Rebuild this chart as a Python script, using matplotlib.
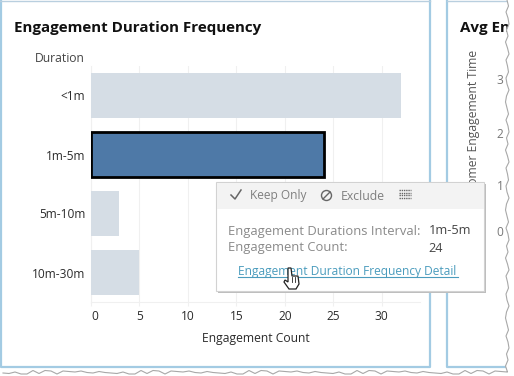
#!/usr/bin/env python
import matplotlib
matplotlib.use('Agg')
import matplotlib.pyplot as plt
from matplotlib.patches import Rectangle, Circle, Polygon

plt.rcParams['font.family'] = ['Open Sans', 'DejaVu Sans']

durations = ['<1m', '1m-5m', '5m-10m', '10m-30m']
counts = [32, 24, 2.9, 5]
selected = '1m-5m'
x_ticks = [0, 5, 10, 15, 20, 25, 30]

right_labels = ['3', '2', '1', '0']
right_label_y = [80, 135, 187, 232]

tip_labels = ['Engagement Durations Interval:', 'Engagement Count:']
tip_values = ['1m-5m', '24']
tip_link = 'Engagement Duration Frequency Detail'

# wiggle of the torn screenshot edge, pixels
tear = [0, 1.5, -1, 1, 2, -0.5, 1, -1.5, 0.5, 2, -1, 0.5, 1.5, -1, 0, 2, -0.5, -1.5]

W, H = 514, 376
BLUE = '#a3cbe3'
GRID = '#f0f0f0'
DARK = '#2b2b2b'

fig = plt.figure(figsize=(W/100, H/100), dpi=100)
fig.patch.set_facecolor('white')

# main bar chart, placed in pixels
ax = fig.add_axes([91/W, 1-302/H, (420-91)/W, (302-66)/H])
colors = ['#4e79a7' if d == selected else '#d5dde5' for d in durations]
for i, d in enumerate(durations):
	if d == selected:
		ax.barh(i, counts[i], height=0.77, color=colors[i], edgecolor='black', linewidth=2, zorder=3)
	else:
		ax.barh(i, counts[i], height=0.75, color=colors[i], zorder=3)
ax.set_ylim(3.5, -0.5)
ax.set_xlim(0, 329/9.69)
ax.set_xticks(x_ticks)
ax.set_yticks(range(len(durations)))
ax.set_yticklabels(durations, fontsize=8.6, color=DARK)
ax.tick_params(axis='y', length=0, pad=4)
ax.tick_params(axis='x', length=3, width=0.8, color=GRID, labelsize=8.6, labelcolor=DARK, pad=3)
ax.grid(axis='x', color=GRID, linewidth=0.8, zorder=0)
ax.set_axisbelow(True)
for s in ['top', 'right']:
	ax.spines[s].set_visible(False)
for s in ['left', 'bottom']:
	ax.spines[s].set_color(GRID)
	ax.spines[s].set_linewidth(0.8)
ax.set_xlabel('Engagement Count', fontsize=8.7, color=DARK, labelpad=6)
ax.get_xticklabels()[0].set_ha('left')

# overlay in pixel coordinates for the dashboard pieces
ov = fig.add_axes([0, 0, 1, 1], zorder=5)
ov.set_xlim(0, W)
ov.set_ylim(H, 0)
ov.axis('off')
ov.patch.set_alpha(0)

ov.text(14, 28, 'Engagement Duration Frequency', fontsize=10.9, fontweight='bold', color='#111111', va='center')
ov.text(85, 58, 'Duration', fontsize=8.7, color='#444444', va='center', ha='right')

# panel frames
ov.plot([1, 1, 430, 430], [0, 367, 367, 0], color=BLUE, lw=1.6, zorder=2)
ov.plot([0, 430], [0.5, 0.5], color='#b9cfdf', lw=1, zorder=2)
ov.plot([447, 447, 512], [0, 367, 367], color=BLUE, lw=1.6, zorder=2)
ov.plot([447, 512], [0.5, 0.5], color='#b9cfdf', lw=1, zorder=2)

# second panel, cut off by the tear
ov.text(460, 28, 'Avg En', fontsize=10.9, fontweight='bold', color='#111111', va='center', zorder=2)
ov.text(473, 50, 'Customer Engagement Time', fontsize=8.7, color='#555555', rotation=90, ha='center', va='top', zorder=2)
for lab, y in zip(right_labels, right_label_y):
	ov.text(500, y, lab, fontsize=8.6, color='#777777', ha='center', va='center', zorder=2)

# tooltip
ov.add_patch(Rectangle((218, 184), 268, 109, facecolor='#bdbdbd', edgecolor='none', zorder=3))
ov.add_patch(Rectangle((216, 182), 268, 109, facecolor='white', edgecolor='#d2d2d2', lw=0.8, zorder=4))
ov.add_patch(Rectangle((216.5, 182.5), 267, 26.5, facecolor='#f3f3f3', edgecolor='none', zorder=4))
ov.plot([231, 235, 241], [195, 199, 190], color='#666666', lw=1.1, zorder=5)
ov.text(250, 196, 'Keep Only', fontsize=8.6, color='#7f7f7f', va='center', zorder=5)
ov.add_patch(Circle((326.5, 195.5), 5, facecolor='none', edgecolor='#666666', lw=1, zorder=5))
ov.plot([323, 330], [199, 192], color='#666666', lw=1, zorder=5)
ov.text(341, 196, 'Exclude', fontsize=8.8, color='#7f7f7f', va='center', zorder=5)
for r in range(4):
	ov.plot([399, 411], [190+r*2.5, 190+r*2.5], color='#666666', lw=1, ls=(0, (1, 0.6)), zorder=5)
for lab, val, y in zip(tip_labels, tip_values, [231, 248]):
	ov.text(228, y, lab, fontsize=9.4, color='#8a8a8a', va='center', zorder=5)
	ov.text(428.5, y, val, fontsize=9.2, color='#444444', va='center', zorder=5)
ov.text(238, 271, tip_link, fontsize=8.65, color='#4b9cbd', va='center', zorder=5)
ov.plot([238, 458], [277, 277], color='#4b9cbd', lw=0.8, zorder=5)

# hand cursor
hand = [(288, 268), (291, 268), (292, 276), (298, 276), (299, 284), (296, 289), (289, 289), (284, 282), (285, 280), (288, 282)]
ov.add_patch(Polygon(hand, closed=True, facecolor='white', edgecolor='#222222', lw=0.9, zorder=6))
for x in [292, 295]:
	ov.plot([x, x], [277, 282], color='#222222', lw=0.6, zorder=7)

# torn edge: white outside, thin grey line along it
edge_r = [(507+tear[i % len(tear)], y) for i, y in enumerate(range(0, 373, 6))]
edge_b = [(x, 372+tear[(i*5) % len(tear)]) for i, x in enumerate(range(507, -1, -6))]
edge = edge_r + edge_b
ov.add_patch(Polygon(edge + [(0, H), (W, H), (W, 0)], closed=True, facecolor='white', edgecolor='none', zorder=8))
ov.plot([p[0] for p in edge], [p[1] for p in edge], color='#a8a8a8', lw=0.8, zorder=9)

plt.savefig('out.png', dpi=100)
